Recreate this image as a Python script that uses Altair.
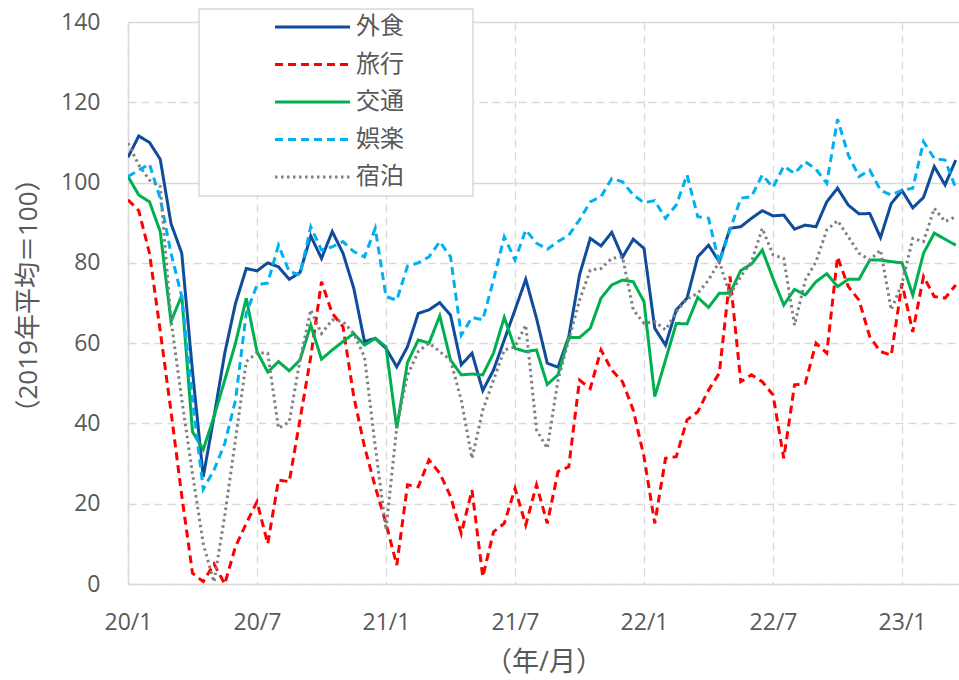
import json

import altair as alt
import pandas as pd

# Semi-monthly index (2019 average = 100), from 2020/1 first half onward
series_names = ["外食", "旅行", "交通", "娯楽", "宿泊"]
series_colors = ["#0F4C9C", "#FF0000", "#00B050", "#00B0F0", "#808080"]
series_dashes = [[1, 0], [8, 5], [1, 0], [8, 5], [2.5, 3.5]]

x_tick_labels = ["20/1", "20/7", "21/1", "21/7", "22/1", "22/7", "23/1"]
y_ticks = [0, 20, 40, 60, 80, 100, 120, 140]

dining = [
    106.3, 111.6, 110.0, 105.8, 89.8, 82.4, 53.0, 26.7, 41.7, 57.5,
    69.9, 78.6, 78.0, 80.0, 79.0, 75.9, 77.6, 86.7, 81.1, 87.8,
    82.4, 73.7, 60.4, 61.2, 58.7, 54.1, 59.1, 67.4, 68.3, 70.1,
    67.0, 54.6, 57.5, 48.2, 53.3, 60.8, 68.3, 75.9, 66.2, 55.0,
    54.0, 61.6, 77.0, 86.1, 84.2, 87.6, 81.4, 85.9, 83.6, 63.7,
    59.5, 68.3, 71.2, 81.5, 84.4, 80.3, 88.6, 89.0, 91.1, 93.0,
    91.7, 91.9, 88.4, 89.4, 89.0, 95.2, 98.6, 94.4, 92.2, 92.3,
    86.3, 94.8, 98.0, 93.7, 96.3, 104.0, 99.4, 105.6,
]
travel = [
    95.7, 93.0, 82.4, 63.0, 43.0, 22.0, 2.7, 0.6, 5.0, 0.0,
    9.3, 15.1, 20.5, 10.0, 25.9, 25.5, 40.9, 56.6, 75.3, 67.4,
    64.1, 46.7, 34.2, 24.2, 15.1, 4.7, 24.7, 24.2, 30.9, 27.6,
    21.8, 12.6, 23.4, 1.8, 13.0, 15.1, 23.8, 14.7, 24.7, 15.1,
    28.0, 29.2, 50.8, 48.7, 58.3, 53.3, 50.4, 43.3, 31.7, 15.1,
    31.3, 31.7, 40.9, 42.9, 48.3, 52.5, 76.6, 50.4, 52.1, 50.4,
    47.1, 31.3, 49.6, 50.0, 60.0, 57.5, 81.5, 74.1, 70.7, 61.6,
    57.9, 57.0, 74.9, 62.8, 76.6, 71.6, 71.2, 74.5,
]
transport = [
    101.5, 96.9, 95.2, 87.8, 65.4, 71.9, 37.9, 33.5, 41.7, 50.8,
    60.0, 71.2, 57.9, 52.8, 55.4, 53.1, 55.8, 64.5, 56.0, 58.3,
    60.4, 62.4, 59.5, 61.2, 59.1, 38.8, 55.2, 60.8, 60.0, 66.8,
    55.8, 52.1, 52.3, 52.1, 57.5, 66.4, 58.7, 57.9, 58.3, 49.7,
    52.1, 61.4, 61.4, 63.7, 71.2, 74.5, 75.7, 75.3, 70.3, 46.7,
    55.8, 64.9, 64.8, 71.4, 68.9, 72.4, 72.4, 78.1, 79.7, 83.2,
    76.1, 69.5, 73.4, 72.0, 75.3, 77.3, 74.1, 75.9, 75.9, 80.7,
    80.7, 80.3, 80.0, 72.0, 82.4, 87.4, 85.9, 84.4,
]
leisure = [
    101.5, 103.1, 104.6, 96.0, 82.4, 71.6, 46.0, 23.6, 28.4, 35.0,
    45.8, 67.4, 74.5, 75.0, 84.4, 77.8, 77.0, 89.0, 83.2, 84.0,
    85.3, 82.8, 81.5, 88.6, 71.6, 70.7, 79.2, 80.0, 81.5, 85.3,
    81.5, 62.0, 66.4, 65.8, 75.7, 86.5, 80.7, 88.2, 84.9, 83.4,
    85.3, 86.9, 90.7, 95.2, 96.5, 101.0, 100.2, 96.9, 95.0, 95.5,
    91.1, 94.4, 101.9, 91.5, 91.1, 79.9, 88.2, 96.1, 96.5, 101.9,
    98.8, 104.1, 102.3, 105.2, 103.3, 99.8, 115.8, 106.9, 101.5, 103.1,
    98.1, 96.9, 98.1, 98.6, 110.2, 106.0, 105.6, 98.6,
]
lodging = [
    109.8, 104.4, 100.6, 99.0, 65.8, 46.0, 27.5, 10.0, 0.5, 17.0,
    36.0, 55.4, 57.6, 57.5, 38.8, 40.4, 55.8, 68.3, 62.4, 65.8,
    65.4, 62.4, 56.6, 34.2, 13.5, 39.2, 52.0, 57.9, 60.0, 57.9,
    55.8, 45.8, 31.3, 43.3, 50.8, 58.3, 59.1, 64.5, 38.4, 33.8,
    50.8, 60.8, 70.7, 78.2, 78.6, 81.1, 81.5, 68.3, 64.9, 65.4,
    63.3, 67.8, 71.0, 72.4, 75.7, 80.3, 72.0, 76.6, 80.3, 88.6,
    82.0, 81.1, 64.5, 75.7, 80.3, 88.2, 90.5, 86.5, 82.4, 80.7,
    83.2, 68.3, 74.9, 86.1, 85.3, 93.6, 90.3, 91.5,
]

series_values = [dining, travel, transport, leisure, lodging]

rows = []
for name, values in zip(series_names, series_values):
    for i, v in enumerate(values):
        rows.append({"series": name, "idx": i, "value": v})
df = pd.DataFrame(rows)
legend_df = pd.DataFrame({"series": series_names})
frame_df = pd.DataFrame({"frame": [0]})

NUM_FONT = "Open Sans"
TITLE_FONT = "Open Sans, Noto Sans CJK JP"
CJK_FONT = "Noto Sans CJK JP"
TEXT = "#595959"
GRID = "#d9d9d9"

color_scale = alt.Scale(domain=series_names, range=series_colors)
dash_scale = alt.Scale(domain=series_names, range=series_dashes)

x_axis = alt.Axis(
    values=list(range(0, 73, 12)),
    labelExpr=f"{json.dumps(x_tick_labels)}[round(datum.value / 12)]",
    title="（年/月）",
    titleFont=TITLE_FONT,
    titleFontSize=27,
    titleFontWeight="normal",
    titleColor=TEXT,
    titleBaseline="middle",
    titleY=78,
    labelFont=NUM_FONT,
    labelFontSize=23,
    labelColor=TEXT,
    labelPadding=27,
    labelFlush=False,
    labelOverlap=False,
    ticks=False,
    tickSize=0,
    domain=True,
    domainColor=GRID,
    domainWidth=1.5,
    grid=True,
    gridColor=GRID,
    gridWidth=1.3,
    gridDash=[8, 5],
)

y_axis = alt.Axis(
    values=y_ticks,
    title="（2019年平均＝100）",
    titleFont=TITLE_FONT,
    titleFontSize=26,
    titleFontWeight="normal",
    titleColor=TEXT,
    titleAngle=-90,
    titleAlign="center",
    titleBaseline="middle",
    titleX=-100,
    titleY=273,
    labelFont=NUM_FONT,
    labelFontSize=23,
    labelColor=TEXT,
    labelPadding=28,
    labelFlush=False,
    labelOverlap=False,
    ticks=False,
    tickSize=0,
    domain=True,
    domainColor=GRID,
    domainWidth=1.5,
    grid=True,
    gridColor=GRID,
    gridWidth=1.3,
    gridDash={
        "condition": {"test": "datum.value === 100 || datum.value === 140", "value": [1, 0]},
        "value": [8, 5],
    },
)

lines = alt.Chart(df).mark_line(strokeWidth=3, clip=True).encode(
    x=alt.X("idx:Q", scale=alt.Scale(domain=[0, 77.3], nice=False, zero=False), axis=x_axis),
    y=alt.Y("value:Q", scale=alt.Scale(domain=[0, 140], nice=False), axis=y_axis),
    color=alt.Color("series:N", scale=color_scale, legend=None),
    strokeDash=alt.StrokeDash("series:N", scale=dash_scale, legend=None),
)

# Legend frame and entries
frame = alt.Chart(frame_df).mark_rect(fill="white", stroke=GRID, strokeWidth=1.5).encode(
    x=alt.value(71), x2=alt.value(345), y=alt.value(-13), y2=alt.value(174)
)

legend_y = alt.Y(
    "series:N",
    sort=series_names,
    scale=alt.Scale(type="point", range=[5, 155], padding=0),
    axis=None,
)

legend_lines = alt.Chart(legend_df).mark_rule(strokeWidth=3).encode(
    x=alt.value(147),
    x2=alt.value(222),
    y=legend_y,
    color=alt.Color("series:N", scale=color_scale, legend=None),
    strokeDash=alt.StrokeDash("series:N", scale=dash_scale, legend=None),
)

legend_text = alt.Chart(legend_df).mark_text(
    align="left", baseline="middle", font=CJK_FONT, fontSize=24, color=TEXT
).encode(
    x=alt.value(228),
    y=legend_y,
    text="series:N",
)

chart = (
    alt.layer(frame, lines, legend_lines, legend_text)
    .resolve_scale(y="independent")
    .properties(
        width=831,
        height=562,
        autosize=alt.AutoSizeParams(type="none"),
        padding={"left": 128, "top": 22, "right": 0, "bottom": 96},
    )
    .configure_view(stroke=None)
    .configure(background="white")
)

chart.save("out.html", embed_options={"renderer": "svg", "actions": False})
